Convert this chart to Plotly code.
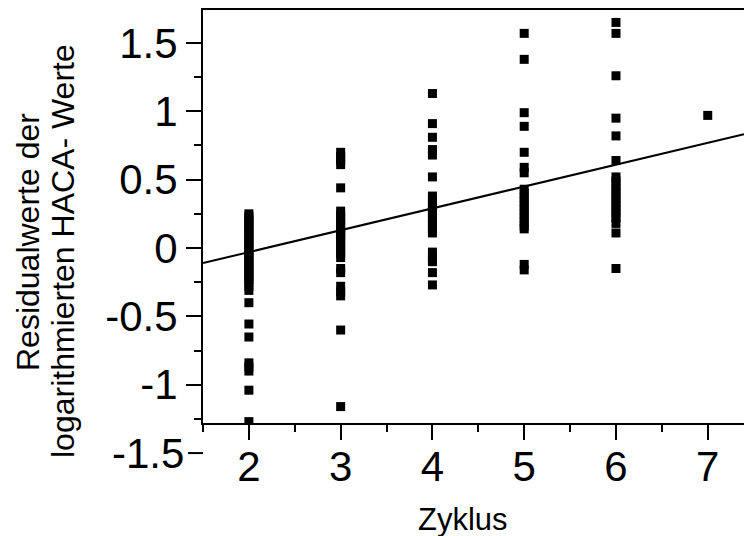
import plotly.graph_objects as go

# Residuals of log-transformed HACA values per cycle
zyklus_2 = [0.25, 0.23, 0.21, 0.19, 0.17, 0.15, 0.13, 0.11, 0.09, 0.07, 0.05, 0.03,
            0.01, -0.01, -0.03, -0.05, -0.07, -0.09, -0.11, -0.13, -0.15, -0.17,
            -0.19, -0.21, -0.23, -0.25, -0.28, -0.31, -0.40, -0.556, -0.651,
            -0.84, -0.87, -0.90, -1.04, -1.27]
zyklus_3 = [0.70, 0.67, 0.64, 0.61, 0.44, 0.27, 0.24, 0.21, 0.18, 0.15, 0.12, 0.10,
            0.08, 0.05, 0.02, -0.01, -0.04, -0.07, -0.15, -0.18, -0.28, -0.32,
            -0.35, -0.60, -1.16]
zyklus_4 = [1.13, 0.91, 0.81, 0.72, 0.68, 0.52, 0.38, 0.35, 0.32, 0.29, 0.26, 0.23,
            0.20, 0.17, 0.14, 0.11, -0.03, -0.07, -0.10, -0.18, -0.27]
zyklus_5 = [1.57, 1.38, 0.99, 0.89, 0.70, 0.59, 0.55, 0.43, 0.40, 0.37, 0.34, 0.31,
            0.28, 0.25, 0.22, 0.19, 0.16, 0.14, -0.12, -0.16]
zyklus_6 = [1.65, 1.57, 1.26, 0.95, 0.82, 0.64, 0.52, 0.49, 0.46, 0.43, 0.40, 0.37,
            0.34, 0.31, 0.28, 0.25, 0.22, 0.18, 0.11, -0.15]
zyklus_7 = [0.97]

cycles = [2, 3, 4, 5, 6, 7]
residuals = [zyklus_2, zyklus_3, zyklus_4, zyklus_5, zyklus_6, zyklus_7]

# Linear regression line: residual = intercept + slope * cycle
fit_slope = 0.160
fit_intercept = -0.350

x_range = [1.5, 7.395]
y_range = [-1.28, 1.741]

y_tickvals = [-1.5, -1, -0.5, 0, 0.5, 1, 1.5]
y_ticktext = ["-1.5", "-1", "-0.5", "0", "0.5", "1", "1.5"]
x_tickvals = [2, 3, 4, 5, 6, 7]

FONT = "Liberation Sans, Arial, Helvetica, sans-serif"

xs, ys = [], []
for c, vals in zip(cycles, residuals):
    xs.extend([c] * len(vals))
    ys.extend(vals)

fig = go.Figure()
fig.add_trace(go.Scatter(
    x=xs, y=ys, mode="markers",
    marker=dict(symbol="square", size=9, color="black", line=dict(width=0)),
    hoverinfo="x+y", showlegend=False,
))
fig.add_trace(go.Scatter(
    x=x_range, y=[fit_intercept + fit_slope * v for v in x_range],
    mode="lines", line=dict(color="black", width=2),
    hoverinfo="skip", showlegend=False,
))

L, R, T, B = 203, 0, 10, 113
W, H = 744, 536
pw, ph = W - L - R, H - T - B

# visible y ticks (range stops above -1.5)
vis = [(v, t) for v, t in zip(y_tickvals, y_ticktext) if y_range[0] <= v <= y_range[1]]

fig.update_layout(
    width=W, height=H, autosize=False,
    margin=dict(l=L, r=R, t=T, b=B, pad=0),
    paper_bgcolor="white", plot_bgcolor="white",
    font=dict(family=FONT, color="black"),
    xaxis=dict(
        range=x_range, tickvals=x_tickvals, ticktext=[str(v) for v in x_tickvals],
        ticks="outside", ticklen=15, tickwidth=2, tickcolor="black",
        ticklabelstandoff=-9,
        tickfont=dict(size=42, family=FONT, color="black"),
        showline=True, linewidth=2, linecolor="black", mirror=True,
        showgrid=False, zeroline=False,
        minor=dict(tickvals=[1.5, 2.5, 3.5, 4.5, 5.5, 6.5], ticks="outside",
                   ticklen=7, tickwidth=2, tickcolor="black", showgrid=False),
    ),
    yaxis=dict(
        range=y_range, tickvals=[v for v, _ in vis], ticktext=[t for _, t in vis],
        ticks="outside", ticklen=15, tickwidth=2, tickcolor="black",
        tickfont=dict(size=42, family=FONT, color="black"),
        showline=True, linewidth=2, linecolor="black", mirror=False,
        showgrid=False, zeroline=False,
        minor=dict(tickvals=[-1.25, -0.75, -0.25, 0.25, 0.75, 1.25], ticks="outside",
                   ticklen=7, tickwidth=2, tickcolor="black", showgrid=False),
    ),
)

# -1.5 label and its tick sit below the x axis
y_low = y_tickvals[0]
y_px_per_unit = ph / (y_range[1] - y_range[0])
y_low_paper = (y_low - y_range[0]) * y_px_per_unit / ph
fig.add_shape(type="line", xref="paper", yref="paper",
              x0=-15 / pw, x1=0, y0=y_low_paper, y1=y_low_paper,
              line=dict(color="black", width=2))
fig.add_annotation(text=y_ticktext[0], xref="paper", yref="paper",
                   x=-17 / pw, y=y_low_paper, xanchor="right", yanchor="middle",
                   showarrow=False, font=dict(size=42, family=FONT, color="black"))

# axis titles
fig.add_annotation(text="Zyklus", xref="paper", yref="paper",
                   x=(463 - L) / pw, y=-(519 - (T + ph)) / ph,
                   xanchor="center", yanchor="middle", showarrow=False,
                   font=dict(size=31, family=FONT, color="black"))
fig.add_annotation(text="Residualwerte der", xref="paper", yref="paper",
                   x=(28 - L) / pw, y=((T + ph) - 242) / ph, textangle=-90,
                   xanchor="center", yanchor="middle", showarrow=False,
                   font=dict(size=32, family=FONT, color="black"))
fig.add_annotation(text="logarithmierten HACA- Werte", xref="paper", yref="paper",
                   x=(63 - L) / pw, y=((T + ph) - 251) / ph, textangle=-90,
                   xanchor="center", yanchor="middle", showarrow=False,
                   font=dict(size=32, family=FONT, color="black"))

fig.write_html("out.html")
